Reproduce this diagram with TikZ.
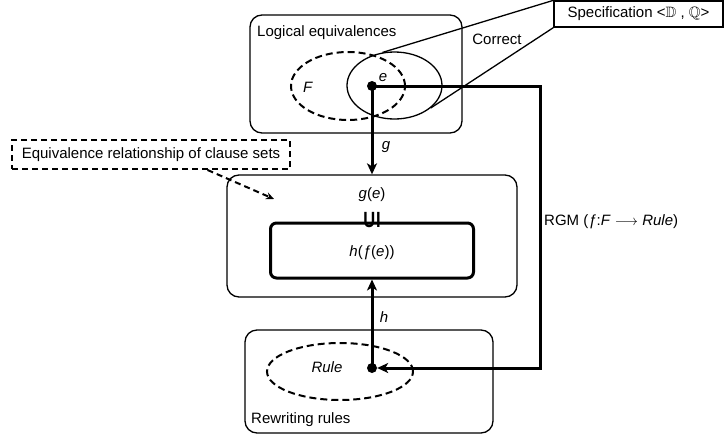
\documentclass[tikz,border=0pt]{standalone}
\usepackage{fontspec}
\usepackage{amssymb}
\setmainfont{Liberation Sans}
\usetikzlibrary{arrows.meta,shapes.geometric,calc}
\begin{document}
\begin{tikzpicture}[x=1pt,y=-1pt,
  font=\fontsize{15}{18}\selectfont,
  rbox/.style={draw,line width=1.3pt,rounded corners=12pt,inner sep=0pt},
  thickbox/.style={draw,line width=3pt,rounded corners=6pt,inner sep=0pt},
  dell/.style={draw,ellipse,line width=2pt,dash pattern=on 7pt off 4pt,inner sep=0pt},
  sell/.style={draw,ellipse,line width=1.3pt,inner sep=0pt},
  dot/.style={circle,fill,inner sep=0pt,minimum size=10pt},
  arr/.style={line width=3pt,-{Stealth[length=11pt,width=10pt,inset=3pt]}},
  txt/.style={inner sep=0pt}]
\useasboundingbox (0,0) rectangle (724,437);
% boxes
\node[rbox,minimum width=212pt,minimum height=118pt] (top) at (356,74) {};
\node[rbox,minimum width=290pt,minimum height=122pt] (mid) at (372,236) {};
\node[thickbox,minimum width=203pt,minimum height=55pt] (inner) at (372,250.5) {};
\node[rbox,minimum width=248pt,minimum height=103pt] (bot) at (369,381.5) {};
\node[draw,line width=1.3pt,minimum width=169pt,minimum height=26pt,inner sep=0pt] (spec) at (638.5,14) {Specification <$\mathbb{D}$ , $\mathbb{Q}$>};
\node[draw,line width=2pt,dash pattern=on 6pt off 4pt,minimum width=278pt,minimum height=29pt,inner sep=0pt] (lab) at (151,154.5) {Equivalence relationship of clause sets};
% labels
\node[txt,anchor=west] (lt) at (257,33) {Logical equivalences};
\node[txt,anchor=west] (lb) at (251,420) {Rewriting rules};
% ellipses
\node[dell,minimum width=114pt,minimum height=68pt] (F) at (348,86) {};
\node[sell,minimum width=95pt,minimum height=67pt] (ell) at (394.5,85.5) {};
\node[dell,minimum width=146pt,minimum height=57pt] (R) at (340,371.5) {};
\node[txt] (Fl) at (308,87) {\textit{F}};
\node[txt] (Rl) at (327,367) {\textit{Rule}};
% dots
\node[dot] (e) at (372,86) {};
\node[dot] (r) at (372,368) {};
\node[txt] (el) at (383,78) {\textit{e}};
% spec lines
\draw[line width=1.3pt] (ell.110) -- (spec.north west);
\draw[line width=1.3pt] (ell.-32) -- (spec.south west);
\node[txt] (corr) at (497,39) {Correct};
% RGM path
\coordinate (c1) at (540,86);
\coordinate (c2) at (540,368);
\draw[arr] (e.center) -- (c1) -- (c2) -- (r.east);
\node[txt,anchor=west] (rgm) at (544,222) {RGM (\textit{ƒ}:\textit{F} $\longrightarrow$ \textit{Rule})};
% g and h
\draw[arr] (e.center) -- (mid.north);
\node[txt] (gl) at (386,147) {\textit{g}};
\draw[arr] (r.center) -- (inner.south);
\node[txt] (hl) at (384,317) {\textit{h}};
% middle texts
\node[txt] (ge) at (372,195) {\textit{g}(\textit{e})};
\node[txt,font=\fontsize{22}{22}\selectfont\bfseries,xscale=0.75,transform shape] (sub) at (372,220) {U\kern1pt I};
\node[txt] (hfe) at (372,253) {\textit{h}(\textit{ƒ}(\textit{e}))};
% dashed arrow
\draw[line width=2pt,dash pattern=on 6pt off 4pt,-{Stealth[length=8pt,width=7pt]}] ($(lab.south west)!0.702!(lab.south east)$) -- (274,199);
\end{tikzpicture}
\end{document}
